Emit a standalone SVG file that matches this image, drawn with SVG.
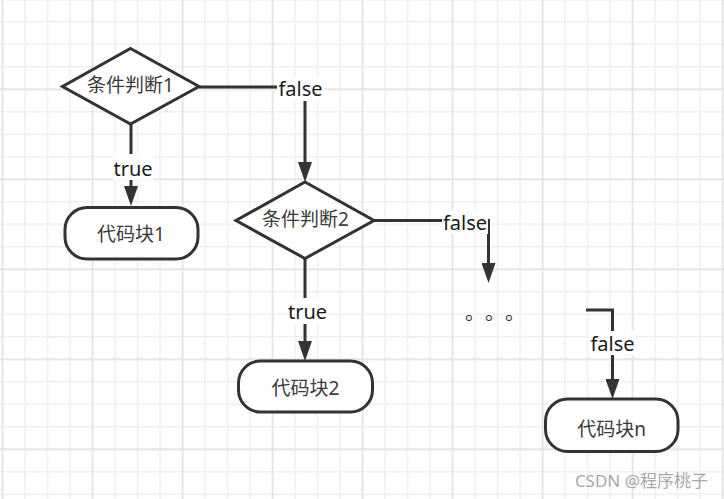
<svg xmlns="http://www.w3.org/2000/svg" width="724" height="499" viewBox="0 0 724 499">
<style>
.shape{fill:#ffffff;stroke:#333333;stroke-width:3}
.edge{fill:none;stroke:#333333;stroke-width:3}
.node-text{font-family:"Noto Sans","Noto Sans CJK SC",sans-serif;font-size:19px;fill:#3a3a3a;text-anchor:middle}
.lbl-bg{fill:#ffffff}
.lbl{font-family:"Noto Sans","Noto Sans CJK SC",sans-serif;font-size:20px;fill:#1a1a1a;text-anchor:middle}
.wm{font-family:"Noto Sans","Noto Sans CJK SC",sans-serif;font-size:17px;fill:#a8a8a8;text-anchor:end}
</style>
<defs>
<pattern id="gridMinor" patternUnits="userSpaceOnUse" x="1.75" y="-1.55" width="22.5" height="22.5">
<rect x="0" y="0" width="22.5" height="1.5" fill="#efefef"/>
<rect x="0" y="0" width="1.5" height="22.5" fill="#efefef"/>
</pattern>
<pattern id="gridMajor" patternUnits="userSpaceOnUse" x="1.75" y="-1.55" width="90" height="90">
<rect x="0" y="0" width="90" height="1.5" fill="#e3e3e3"/>
<rect x="0" y="0" width="1.5" height="90" fill="#e3e3e3"/>
</pattern>
<marker id="arrow" viewBox="0 0 20 14" refX="0" refY="7" markerWidth="20" markerHeight="14" markerUnits="userSpaceOnUse" orient="auto">
<path d="M0,0 L20,7 L0,14 Z" fill="#333333"/>
</marker>
</defs>
<rect x="0" y="0" width="724" height="499" fill="#ffffff"/>
<rect x="0" y="0" width="724" height="499" fill="url(#gridMinor)"/>
<rect x="0" y="0" width="724" height="499" fill="url(#gridMajor)"/>

<g id="connectors">
<path class="edge" d="M199,87 L305,87 L305,162" marker-end="url(#arrow)"/>
<path class="edge" d="M131,124 L131,186" marker-end="url(#arrow)"/>
<path class="edge" d="M374,220.5 L488.5,220.5 L488.5,263" marker-end="url(#arrow)"/>
<path class="edge" d="M305,258.5 L305,341" marker-end="url(#arrow)"/>
<path class="edge" d="M586,310 L612.5,310 L612.5,379" marker-end="url(#arrow)"/>
<rect class="lbl-bg" x="277" y="77" width="47" height="24"/>
<text class="lbl" x="300.5" y="95.5">false</text>
<rect class="lbl-bg" x="113" y="154" width="40" height="26"/>
<text class="lbl" x="133" y="176">true</text>
<rect class="lbl-bg" x="442" y="210" width="46" height="24"/>
<text class="lbl" x="465" y="229.5">false</text>
<rect class="lbl-bg" x="287" y="298" width="41" height="26"/>
<text class="lbl" x="307.5" y="319">true</text>
<rect class="lbl-bg" x="589" y="331" width="47" height="24"/>
<text class="lbl" x="612.5" y="350.5">false</text>
</g>

<g id="cond1">
<polygon class="shape" points="130.5,48.5 199,86.5 130.5,124 62.5,86.5"/>
<text class="node-text" x="130.5" y="92">条件判断1</text>
</g>
<g id="block1">
<rect class="shape" x="65" y="207.5" width="133" height="51.5" rx="22" ry="22"/>
<text class="node-text" x="131" y="241">代码块1</text>
</g>
<g id="cond2">
<polygon class="shape" points="305,182 374,220.5 305,258.5 236,220.5"/>
<text class="node-text" x="305.5" y="225.5">条件判断2</text>
</g>
<g id="block2">
<rect class="shape" x="238.5" y="361" width="134" height="51" rx="22" ry="22"/>
<text class="node-text" x="305.5" y="395">代码块2</text>
</g>
<g id="ellipsis">
<text x="465 485 505" y="319.5" style="font-family:'Noto Sans CJK SC',sans-serif;font-size:20px;fill:#333333">。。。</text>
</g>
<g id="blockn">
<rect class="shape" x="545.5" y="399" width="132.5" height="52.5" rx="22" ry="22"/>
<text class="node-text" x="611.5" y="436">代码块n</text>
</g>
<text class="wm" x="708" y="487">CSDN @程序桃子</text>
</svg>
